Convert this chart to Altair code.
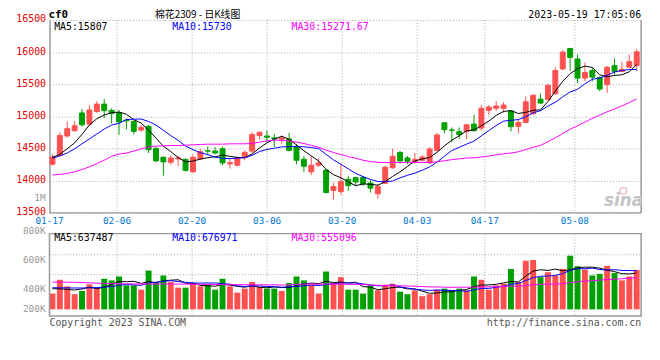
import altair as alt
import pandas as pd

MONO = "DejaVu Sans Mono"
CJK = "Noto Sans CJK SC"
RED = "#ff5050"
GREEN = "#00a000"

# ---------------- data ----------------
dates = [
    "01-17", "01-18", "01-19", "01-20", "01-30", "01-31", "02-01", "02-02", "02-03", "02-06",
    "02-07", "02-08", "02-09", "02-10", "02-13", "02-14", "02-15", "02-16", "02-17", "02-20",
    "02-21", "02-22", "02-23", "02-24", "02-27", "02-28", "03-01", "03-02", "03-03", "03-06",
    "03-07", "03-08", "03-09", "03-10", "03-13", "03-14", "03-15", "03-16", "03-17", "03-20",
    "03-21", "03-22", "03-23", "03-24", "03-27", "03-28", "03-29", "03-30", "03-31", "04-03",
    "04-04", "04-06", "04-07", "04-10", "04-11", "04-12", "04-13", "04-14", "04-17", "04-18",
    "04-19", "04-20", "04-21", "04-24", "04-25", "04-26", "04-27", "04-28", "05-04", "05-05",
    "05-08", "05-09", "05-10", "05-11", "05-12", "05-15", "05-16", "05-17", "05-18", "05-19"]

opens = [
    14257, 14395, 14696, 14778, 15054, 14880, 15075, 15192, 15095, 15059,
    14942, 14921, 14788, 14845, 14502, 14364, 14287, 14340, 14333, 14139,
    14339, 14466, 14461, 14497, 14262, 14241, 14359, 14461, 14702, 14696,
    14666, 14645, 14650, 14533, 14333, 14139, 14241, 14165, 13848, 13832,
    14022, 14047, 14052, 13965, 13797, 13960, 14201, 14441, 14354, 14292,
    14318, 14277, 14472, 14901, 14790, 14763, 14763, 14880, 14819, 15095,
    15126, 15126, 15085, 14845, 14906, 15044, 15269, 15264, 15351, 15739,
    16056, 15893, 15596, 15714, 15606, 15494, 15790, 15698, 15765, 15790]

highs = [
    14410, 14753, 14921, 14932, 15116, 15177, 15238, 15269, 15126, 15100,
    14972, 14942, 14865, 14870, 14523, 14380, 14395, 14395, 14344, 14410,
    14492, 14533, 14523, 14533, 14338, 14380, 14472, 14753, 14768, 14778,
    14727, 14702, 14742, 14574, 14385, 14380, 14349, 14175, 13970, 14267,
    14078, 14063, 14078, 14011, 13950, 14231, 14497, 14461, 14385, 14431,
    14395, 14523, 14740, 14910, 14829, 14829, 14880, 15024, 15177, 15177,
    15238, 15223, 15100, 14957, 15310, 15341, 15356, 15509, 15765, 16031,
    16066, 15964, 15836, 15760, 15622, 15785, 15903, 15852, 15964, 16046]

lows = [
    14241, 14380, 14666, 14763, 14840, 14870, 15059, 14972, 14890, 14712,
    14799, 14722, 14763, 14431, 14288, 14078, 14247, 14226, 14144, 14124,
    14318, 14395, 14410, 14241, 14190, 14226, 14318, 14431, 14640, 14594,
    14523, 14574, 14456, 14257, 14134, 14088, 14216, 13802, 13705, 13781,
    13843, 13919, 13919, 13817, 13720, 13950, 14185, 14267, 14257, 14267,
    14303, 14267, 14460, 14737, 14599, 14650, 14650, 14768, 14778, 15024,
    15085, 15059, 14768, 14737, 14891, 15024, 15197, 15249, 15341, 15719,
    15709, 15519, 15545, 15545, 15392, 15366, 15647, 15688, 15750, 15709]

closes = [
    14369, 14702, 14809, 14855, 14870, 15100, 15192, 15090, 15044, 14916,
    14930, 14768, 14829, 14482, 14308, 14292, 14354, 14355, 14160, 14364,
    14451, 14461, 14431, 14277, 14282, 14359, 14441, 14717, 14753, 14676,
    14650, 14666, 14472, 14318, 14226, 14241, 14277, 13817, 13909, 13986,
    13924, 13981, 13950, 13884, 13909, 14211, 14380, 14308, 14303, 14333,
    14369, 14492, 14712, 14794, 14785, 14717, 14870, 14778, 15126, 15146,
    15162, 15177, 14840, 14906, 15228, 15330, 15208, 15484, 15714, 16000,
    15918, 15596, 15683, 15611, 15427, 15765, 15698, 15734, 15852, 16005]

ma5 = [
    14364, 14410, 14497, 14589, 14721, 14867, 14965, 15021, 15059, 15068,
    15034, 14950, 14897, 14785, 14663, 14536, 14453, 14358, 14294, 14305,
    14337, 14358, 14373, 14397, 14380, 14362, 14358, 14415, 14510, 14589,
    14647, 14692, 14643, 14556, 14466, 14385, 14307, 14176, 14094, 14046,
    13983, 13923, 13950, 13945, 13930, 13987, 14067, 14138, 14222, 14307,
    14339, 14361, 14442, 14540, 14630, 14700, 14776, 14789, 14855, 14927,
    15016, 15078, 15090, 15046, 15063, 15096, 15102, 15231, 15393, 15547,
    15665, 15742, 15782, 15762, 15647, 15616, 15637, 15647, 15695, 15807]

ma10 = [
    14349, 14385, 14431, 14497, 14574, 14650, 14727, 14804, 14865, 14895,
    14951, 14958, 14959, 14922, 14866, 14785, 14702, 14628, 14540, 14484,
    14437, 14406, 14367, 14347, 14344, 14351, 14359, 14395, 14455, 14486,
    14506, 14526, 14529, 14533, 14528, 14516, 14500, 14410, 14325, 14256,
    14184, 14115, 14063, 14020, 13988, 13985, 13995, 14044, 14084, 14119,
    14163, 14214, 14290, 14381, 14469, 14520, 14569, 14616, 14698, 14779,
    14858, 14927, 14940, 14951, 14995, 15056, 15090, 15161, 15220, 15305,
    15381, 15422, 15507, 15578, 15597, 15641, 15690, 15715, 15729, 15730]

ma30 = [
    14088, 14098, 14114, 14139, 14175, 14216, 14267, 14318, 14380, 14415,
    14431, 14461, 14497, 14523, 14538, 14543, 14548, 14548, 14553, 14558,
    14564, 14569, 14569, 14569, 14574, 14574, 14574, 14580, 14600, 14621,
    14631, 14629, 14618, 14600, 14579, 14550, 14520, 14477, 14439, 14408,
    14375, 14349, 14319, 14299, 14286, 14283, 14284, 14283, 14287, 14286,
    14284, 14285, 14294, 14311, 14328, 14340, 14354, 14356, 14369, 14384,
    14402, 14419, 14431, 14450, 14484, 14520, 14551, 14607, 14667, 14734,
    14801, 14854, 14912, 14970, 15020, 15072, 15116, 15164, 15215, 15271.67]

# volume, in thousands
volumes_k = [
    277, 519, 404, 265, 323, 439, 381, 537, 508, 577,
    421, 421, 346, 681, 462, 594, 479, 381, 381, 462,
    404, 439, 346, 537, 404, 294, 364, 479, 392, 364,
    364, 323, 462, 577, 508, 433, 277, 664, 462, 565,
    346, 346, 277, 421, 335, 433, 450, 312, 265, 335,
    231, 265, 346, 364, 335, 364, 335, 577, 519, 346,
    421, 450, 710, 479, 854, 866, 565, 652, 594, 710,
    941, 756, 698, 594, 623, 762, 640, 508, 577, 692]

vol_ma5_k = [
    363, 360, 350, 340, 358, 390, 362, 389, 438, 488,
    485, 493, 455, 489, 466, 501, 512, 519, 459, 459,
    421, 413, 406, 438, 426, 404, 389, 416, 387, 379,
    393, 384, 381, 418, 447, 461, 451, 492, 469, 480,
    463, 477, 399, 391, 345, 362, 383, 390, 359, 359,
    319, 282, 288, 308, 308, 335, 349, 395, 426, 428,
    440, 463, 489, 481, 583, 672, 695, 683, 706, 677,
    692, 731, 740, 740, 722, 687, 663, 625, 622, 637.487]

vol_ma10_k = [
    380, 378, 376, 375, 375, 378, 382, 390, 400, 423,
    437, 428, 422, 463, 477, 493, 503, 487, 474, 463,
    461, 463, 463, 449, 443, 413, 401, 411, 412, 402,
    398, 387, 398, 402, 413, 427, 418, 436, 443, 464,
    462, 464, 446, 430, 413, 413, 430, 395, 375, 352,
    341, 332, 339, 334, 334, 327, 315, 342, 367, 368,
    387, 406, 442, 454, 506, 556, 579, 586, 594, 630,
    682, 713, 712, 723, 700, 690, 697, 683, 681, 676.971]

vol_ma30_k = [
    480, 478, 476, 475, 470, 465, 460, 455, 452, 450,
    448, 447, 446, 446, 445, 445, 444, 443, 442, 441,
    440, 439, 437, 435, 434, 433, 432, 431, 430, 429,
    432, 426, 428, 438, 444, 444, 441, 445, 443, 443,
    440, 438, 436, 427, 423, 417, 416, 414, 410, 406,
    400, 394, 394, 389, 386, 389, 388, 391, 395, 395,
    396, 401, 409, 406, 417, 432, 441, 441, 445, 450,
    470, 484, 498, 503, 513, 524, 530, 537, 547, 555.096]

tick_labels = ["01-17", "02-06", "02-20", "03-06", "03-20", "04-03", "04-17", "05-08"]
price_ticks = [13500, 14000, 14500, 15000, 15500, 16000, 16500]
vol_tick_labels = ["1M", "800K", "600K", "400K", "200K"]
vol_tick_values_k = [1000, 800, 600, 400, 200]
vol_grid_k = [957, 611, 265]

# ---------------- layout constants (pixels in plot area) ----------------
W = 599
H = 300
PRICE_BOTTOM = 195.3
VOL_TOP = 216.3
VOL_BOTTOM = 299.7
VOL_BASE = 293.0
GRID_DRIFT = 1.0148  # Sina places date gridlines with a slightly wider step

n = len(closes)
xs = alt.Scale(domain=[0, n], nice=False, zero=False)
ps = alt.Scale(domain=[13500, 16500], range=[PRICE_BOTTOM, 0], nice=False, zero=False)
vs = alt.Scale(domain=[0, 1330], range=[VOL_BASE, 216.2], nice=False, zero=False)
dir_scale = alt.Scale(domain=["up", "down"], range=[RED, GREEN])
ma_scale = alt.Scale(domain=["MA5", "MA10", "MA30"], range=["#000000", "#0000ff", "#ff00ff"])

df = pd.DataFrame({
    "i": list(range(n)), "date": dates, "open": opens, "high": highs,
    "low": lows, "close": closes, "vol": volumes_k,
})
df["dir"] = ["up" if c >= o else "down" for o, c in zip(opens, closes)]
df["xc"] = df["i"] + 0.4
df["x0"] = df["i"] + 0.067
df["x1"] = df["i"] + 0.733
df["vx0"] = df["i"] + 0.0
df["vx1"] = df["i"] + 0.8
df["btop"] = df[["open", "close"]].max(axis=1)
df["bbot"] = df[["open", "close"]].min(axis=1)
df["zero"] = 0

ma_df = pd.DataFrame({
    "xc": list(df["xc"]) * 3,
    "v": ma5 + ma10 + ma30,
    "s": ["MA5"] * n + ["MA10"] * n + ["MA30"] * n,
})
vma_df = pd.DataFrame({
    "xc": list(df["xc"]) * 3,
    "v": vol_ma5_k + vol_ma10_k + vol_ma30_k,
    "s": ["MA5"] * n + ["MA10"] * n + ["MA30"] * n,
})

tick_idx = [dates.index(t) for t in tick_labels]
tick_df = pd.DataFrame({"t": tick_labels, "gx": [k * GRID_DRIFT for k in tick_idx]})
tick_grid_df = tick_df[tick_df["gx"] > 0]

one = pd.DataFrame({"a": [0]})


def X(f):
    return alt.X(f"{f}:Q", scale=xs, axis=None)


def txt(s, x, y, color, size=10, align="left", baseline="middle", font=MONO,
        weight="normal", style="normal"):
    return alt.Chart(pd.DataFrame({"t": [s]})).mark_text(
        align=align, baseline=baseline, font=font, fontSize=size, color=color,
        fontWeight=weight, fontStyle=style
    ).encode(x=alt.value(x), y=alt.value(y), text="t:N")


GRID_COLOR = "#a8a8a8"
BORDER = "#999999"

# vertical dotted gridlines in both panels
vgrid_p = alt.Chart(tick_grid_df).mark_rule(color=GRID_COLOR, strokeDash=[1, 2], strokeWidth=1).encode(
    x=X("gx"), y=alt.value(0), y2=alt.value(PRICE_BOTTOM))
vgrid_v = alt.Chart(tick_grid_df).mark_rule(color=GRID_COLOR, strokeDash=[1, 2], strokeWidth=1).encode(
    x=X("gx"), y=alt.value(VOL_TOP), y2=alt.value(VOL_BOTTOM))

# horizontal volume gridlines
hgrid_v = alt.Chart(pd.DataFrame({"g": vol_grid_k})).mark_rule(
    color=GRID_COLOR, strokeDash=[1, 2], strokeWidth=1).encode(
    y=alt.Y("g:Q", scale=vs, axis=None), x=alt.value(0), x2=alt.value(W))

# borders
main_bottom = alt.Chart(one).mark_rule(color=BORDER, strokeWidth=1.5).encode(
    x=alt.value(0), x2=alt.value(W), y=alt.value(PRICE_BOTTOM))
main_right = alt.Chart(one).mark_rule(color=BORDER, strokeWidth=1.5).encode(
    x=alt.value(W), y=alt.value(0), y2=alt.value(PRICE_BOTTOM))
vol_box = alt.Chart(one).mark_rect(fillOpacity=0, stroke=BORDER, strokeWidth=1.5).encode(
    x=alt.value(0), x2=alt.value(W), y=alt.value(VOL_TOP), y2=alt.value(VOL_BOTTOM))

price_axis = alt.Axis(
    values=price_ticks, format="d", title=None, labelColor="#e60000", labelFont=MONO,
    labelFontSize=10, labelPadding=4, ticks=False, domain=True, domainColor=BORDER,
    domainWidth=1.5, grid=True, gridColor=GRID_COLOR, gridDash=[1, 2], gridWidth=1,
    labelOffset=-1, labelBaseline="middle")

base = alt.Chart(df)
wick = base.mark_rule(strokeWidth=1).encode(
    x=X("xc"),
    y=alt.Y("low:Q", scale=ps, axis=price_axis),
    y2="high:Q",
    color=alt.Color("dir:N", scale=dir_scale, legend=None))
body = base.mark_rect(strokeWidth=1).encode(
    x=X("x0"), x2="x1:Q",
    y=alt.Y("btop:Q", scale=ps, axis=None), y2="bbot:Q",
    color=alt.Color("dir:N", scale=dir_scale, legend=None),
    stroke=alt.Stroke("dir:N", scale=dir_scale, legend=None))
ma_lines = alt.Chart(ma_df).mark_line(strokeWidth=1).encode(
    x=X("xc"), y=alt.Y("v:Q", scale=ps, axis=None),
    color=alt.Color("s:N", scale=ma_scale, legend=None))

vbar = base.mark_rect().encode(
    x=X("vx0"), x2="vx1:Q",
    y=alt.Y("vol:Q", scale=vs, axis=None), y2="zero:Q",
    color=alt.Color("dir:N", scale=dir_scale, legend=None))
vma_lines = alt.Chart(vma_df).mark_line(strokeWidth=1).encode(
    x=X("xc"), y=alt.Y("v:Q", scale=vs, axis=None),
    color=alt.Color("s:N", scale=ma_scale, legend=None))

# axis-like labels
date_labels = alt.Chart(tick_df).mark_text(
    font=MONO, fontSize=9.5, color="#0078d2", align="center", baseline="middle").encode(
    x=X("gx"), y=alt.value(203.5), text="t:N")

vl_df = pd.DataFrame({"t": vol_tick_labels, "v": vol_tick_values_k})
vlab_scale = alt.Scale(domain=[0, 1000], range=[330.3, 184.8], nice=False, zero=False)


def vol_label_layer(test, dy):
    return alt.Chart(vl_df).transform_filter(test).mark_text(
        font=MONO, fontSize=9.5, color="#999999", align="right", baseline="middle", dy=dy
    ).encode(x=alt.value(-4), y=alt.Y("v:Q", scale=vlab_scale, axis=None), text="t:N")


vol_labels_mid = vol_label_layer("datum.v > 200 && datum.v < 1000", 0)
vol_labels_top = vol_label_layer("datum.v >= 1000", -4.5)
vol_labels_low = vol_label_layer("datum.v <= 200", -8.6)


def fmt(v):
    return f"{v:.2f}" if abs(v - round(v)) > 1e-9 else f"{int(round(v))}"


texts = [
    txt("cf0", -1, -1.5, "#000000", size=11, align="left", baseline="alphabetic", weight="bold"),
    txt("棉花2309 - 日K线图", 150, -1.5, "#000000", size=10, align="center",
        baseline="alphabetic", font=CJK),
    txt("2023-05-19 17:05:06", W, -1.5, "#000000", size=10, align="right", baseline="alphabetic"),
    txt(f"MA5:{fmt(ma5[-1])}", 4.7, 7, "#000000"),
    txt(f"MA10:{fmt(ma10[-1])}", 124.3, 7, "#0000ff"),
    txt(f"MA30:{fmt(ma30[-1])}", 245, 7, "#ff00ff"),
    txt(f"MA5:{int(round(vol_ma5_k[-1] * 1000))}", 4.7, 220.5, "#000000"),
    txt(f"MA10:{int(round(vol_ma10_k[-1] * 1000))}", 124.3, 220.5, "#0000ff"),
    txt(f"MA30:{int(round(vol_ma30_k[-1] * 1000))}", 245, 220.5, "#ff00ff"),
    txt("Copyright 2023 SINA.COM", 0, 306.5, "#555555"),
    txt("http://finance.sina.com.cn", W, 306.5, "#555555", align="right"),
    txt("sina", 601, 188, "#c4c4c4", size=17, align="right", baseline="alphabetic",
        font="DejaVu Sans", weight="bold", style="italic"),
]
logo_eye = alt.Chart(one).mark_point(shape="circle", filled=False, size=45,
                                     stroke="#e6a8a8", strokeWidth=1.5).encode(
    x=alt.value(581), y=alt.value(173))

layers = [vgrid_p, vgrid_v, hgrid_v, wick, body, ma_lines, vbar, vma_lines,
          main_bottom, main_right, vol_box, date_labels,
          vol_labels_mid, vol_labels_top, vol_labels_low, logo_eye] + texts

chart = alt.layer(*layers).resolve_scale(
    y="independent", color="independent", stroke="independent"
).properties(
    width=W, height=H,
    autosize=alt.AutoSizeParams(type="none"),
    padding={"left": 42, "top": 10, "right": 11, "bottom": 32},
).configure_view(strokeWidth=0)

chart.save("out.html", embed_options={"renderer": "svg", "actions": False})
